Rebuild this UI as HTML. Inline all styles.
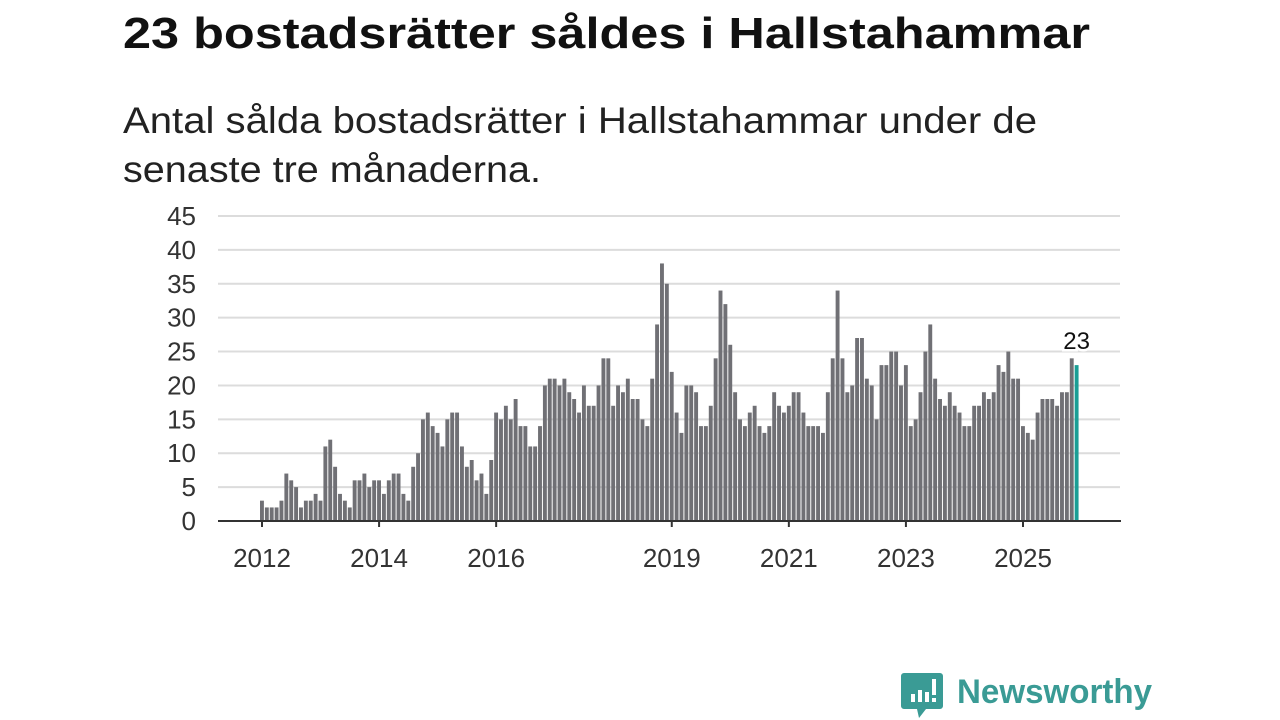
<!DOCTYPE html>
<html><head><meta charset="utf-8"><style>
body{margin:0;width:1280px;height:720px;background:#fff;font-family:"Liberation Sans",sans-serif;overflow:hidden}
svg{position:absolute;left:0;top:0}
</style></head><body>
<svg width="1280" height="720" id="chart">
<text x="123" y="48" font-size="44" font-weight="bold" fill="#111" textLength="967" lengthAdjust="spacingAndGlyphs">23 bostadsrätter såldes i Hallstahammar</text>
<text x="123" y="133" font-size="37" fill="#222" textLength="914" lengthAdjust="spacingAndGlyphs">Antal sålda bostadsrätter i Hallstahammar under de</text>
<text x="123" y="182" font-size="37" fill="#222" textLength="418" lengthAdjust="spacingAndGlyphs">senaste tre månaderna.</text>
<g id="grid"></g><g id="bars"></g><g id="axis"></g>
<g>
<path d="M904 673 h36 a3 3 0 0 1 3 3 v30 a3 3 0 0 1 -3 3 h-14 l-7 9 l-2 -9 h-13 a3 3 0 0 1 -3 -3 v-30 a3 3 0 0 1 3 -3z" fill="#3a9b95"/>
<rect x="911" y="694" width="4" height="8" fill="#fff"/><rect x="918" y="690" width="4" height="12" fill="#fff"/><rect x="925" y="692" width="4" height="10" fill="#fff"/><rect x="932" y="679" width="4" height="16" fill="#fff"/><rect x="932" y="698" width="4" height="4" fill="#fff"/>
<text x="957" y="703" font-size="34" font-weight="bold" fill="#3a9b95" textLength="195" lengthAdjust="spacingAndGlyphs">Newsworthy</text>
</g>
</svg>
<script>
const values = [
3,2,2,2,3,7,6,5,2,3,3,4,
3,11,12,8,4,3,2,6,6,7,5,6,
6,4,6,7,7,4,3,8,10,15,16,14,
13,11,15,16,16,11,8,9,6,7,4,9,
16,15,17,15,18,14,14,11,11,14,20,21,
21,20,21,19,18,16,20,17,17,20,24,24,
17,20,19,21,18,18,15,14,21,29,38,35,
22,16,13,20,20,19,14,14,17,24,34,32,
26,19,15,14,16,17,14,13,14,19,17,16,
17,19,19,16,14,14,14,13,19,24,34,24,
19,20,27,27,21,20,15,23,23,25,25,20,
23,14,15,19,25,29,21,18,17,19,17,16,
14,14,17,17,19,18,19,23,22,25,21,21,
14,13,12,16,18,18,18,17,19,19,24,23];
const yTicks = [0,5,10,15,20,25,30,35,40,45];
const xTickYears = [2012,2014,2016,2019,2021,2023,2025];
const startYear = 2012;

const NS="http://www.w3.org/2000/svg";
const y0=521, pxPerUnit=(521-216)/45;
const x0=262, pxPerMonth=(1023-262)/156;
const yScale=v=>y0-v*pxPerUnit;
const xScale=i=>x0+i*pxPerMonth;
function mk(tag,attrs,parent){const e=document.createElementNS(NS,tag);for(const k in attrs)e.setAttribute(k,attrs[k]);document.getElementById(parent).appendChild(e);return e;}
yTicks.forEach(t=>{
  const y=yScale(t);
  if(t>0){const l=mk('line',{x1:218,x2:1120,y1:y,y2:y,stroke:'#dcdcdc','stroke-width':2},'grid');
  
  }
  const tx=mk('text',{x:196,y:y+9,'font-size':26,fill:'#333','text-anchor':'end'},'axis');
  tx.textContent=t;
  
  
});
const n=values.length;
values.forEach((v,i)=>{
  const x=xScale(i), last=i===n-1;
  const r=mk('rect',{x:x-2,y:yScale(v),width:3.9,height:v*pxPerUnit,fill:last?'#1a9e95':'#707075'},'bars');
  
  
});
const lv=values[n-1];
const lab=mk('text',{x:xScale(n-1),y:yScale(lv)-16,'font-size':24,fill:'#111','text-anchor':'middle',stroke:'#fff','stroke-width':5,'paint-order':'stroke'},'axis');
lab.textContent=lv;


const ax=mk('line',{x1:218,x2:1121,y1:y0,y2:y0,stroke:'#333','stroke-width':2},'axis');


xTickYears.forEach(yr=>{
  const x=xScale((yr-startYear)*12);
  const t=mk('line',{x1:x,x2:x,y1:y0,y2:y0+6,stroke:'#333','stroke-width':2},'axis');
  
  
  const tx=mk('text',{x:x,y:567,'font-size':26,fill:'#333','text-anchor':'middle'},'axis');
  tx.textContent=yr;
  
  
});
</script>
</body></html>
